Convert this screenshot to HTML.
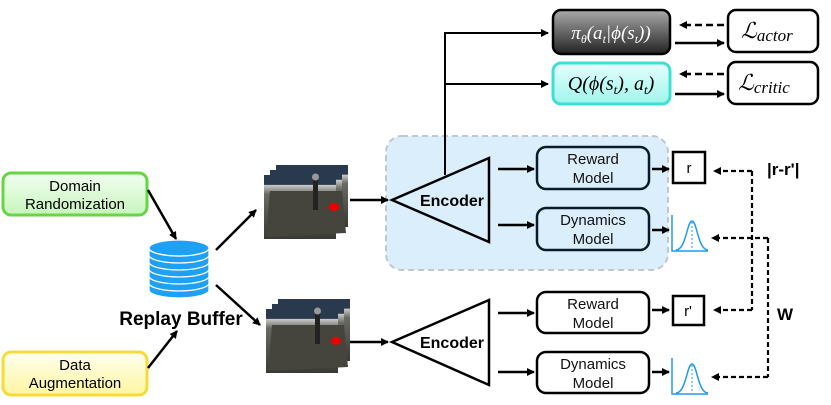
<!DOCTYPE html>
<html><head><meta charset="utf-8"><style>
html,body{margin:0;padding:0;background:#fff;}
svg{display:block;font-family:"Liberation Sans",Arial,sans-serif;}
</style></head><body>
<svg width="831" height="405" viewBox="0 0 831 405" xmlns="http://www.w3.org/2000/svg">
<defs>
<marker id="ah" markerWidth="8" markerHeight="8" refX="7" refY="4" orient="auto" markerUnits="userSpaceOnUse"><path d="M0,0 L8,4 L0,8 z" fill="#000"/></marker>
<linearGradient id="gpi" x1="0" y1="0" x2="0" y2="1"><stop offset="0" stop-color="#aaa"/><stop offset="1" stop-color="#222"/></linearGradient>
<linearGradient id="gq" x1="0" y1="0" x2="0" y2="1"><stop offset="0" stop-color="#e6fffd"/><stop offset="1" stop-color="#9ff5ec"/></linearGradient>
<linearGradient id="gg" x1="0" y1="0" x2="0" y2="1"><stop offset="0" stop-color="#f2fff0"/><stop offset="1" stop-color="#c8f5bd"/></linearGradient>
<linearGradient id="gy" x1="0" y1="0" x2="0" y2="1"><stop offset="0" stop-color="#fffff0"/><stop offset="1" stop-color="#fff5a0"/></linearGradient>
<linearGradient id="gimg" x1="0" y1="0" x2="0" y2="1"><stop offset="0" stop-color="#2a3a4e"/><stop offset="0.15" stop-color="#2a3a4e"/><stop offset="0.16" stop-color="#c8c8c8"/><stop offset="0.3" stop-color="#6a6a64"/><stop offset="1" stop-color="#3a3a34"/></linearGradient>
<g id="img">
<rect x="12" y="0" width="72" height="62" fill="url(#gimg)"/>
<rect x="6" y="5" width="72" height="63" fill="url(#gimg)"/>
<rect x="0" y="10" width="72" height="64" fill="url(#gimg)"/>
<polygon points="6,26 78,26 82,68 2,72" fill="#45453e"/>
<rect x="49" y="10" width="5" height="35" fill="#222"/>
<circle cx="51.5" cy="12" r="3.5" fill="#999"/>
<ellipse cx="70" cy="42" rx="5" ry="4" fill="#e00"/>
</g>
<g id="gauss" fill="none" stroke="#1e9bf0" stroke-width="1.5">
<path d="M0,0 V36 H36"/>
<path d="M4,35 C14,35 15,6 20,6 C25,6 26,35 36,35"/>
<path d="M20,7 V35" stroke-dasharray="2,2" stroke-width="1"/>
</g>
</defs>

<rect x="386" y="136" width="282" height="134" rx="16" fill="#dbeefb" stroke="#c0c8cf" stroke-width="2" stroke-dasharray="6,4"/>

<rect x="3" y="173" width="144" height="42" rx="8" fill="url(#gg)" stroke="#66d645" stroke-width="3"/>
<text x="75" y="191" font-size="15" text-anchor="middle">Domain</text>
<text x="75" y="209" font-size="15" text-anchor="middle">Randomization</text>
<rect x="3" y="352" width="144" height="43" rx="8" fill="url(#gy)" stroke="#f5dc3a" stroke-width="3"/>
<text x="75" y="370" font-size="15" text-anchor="middle">Data</text>
<text x="75" y="388" font-size="15" text-anchor="middle">Augmentation</text>

<g fill="#1ea0f5" stroke="#fff" stroke-width="1.3">
<path d="M149,290 v-8 a30,8 0 0 0 60,0 v8 a30,8 0 0 1 -60,0z"/>
<path d="M149,283 v-8 a30,8 0 0 0 60,0 v8 a30,8 0 0 1 -60,0z"/>
<path d="M149,276 v-8 a30,8 0 0 0 60,0 v8 a30,8 0 0 1 -60,0z"/>
<path d="M149,269 v-8 a30,8 0 0 0 60,0 v8 a30,8 0 0 1 -60,0z"/>
<path d="M149,262 v-8 a30,8 0 0 0 60,0 v8 a30,8 0 0 1 -60,0z"/>
<path d="M149,255 v-7 a30,8 0 0 0 60,0 v7 a30,8 0 0 1 -60,0z"/>
<ellipse cx="179" cy="248" rx="30" ry="8"/>
</g>
<text x="181" y="325" font-size="19" font-weight="bold" text-anchor="middle">Replay Buffer</text>

<g stroke="#000" stroke-width="2.5" marker-end="url(#ah)">
<line x1="148" y1="190" x2="176" y2="239"/>
<line x1="148" y1="368" x2="177" y2="331"/>
<line x1="216" y1="250" x2="256" y2="210"/>
<line x1="216" y1="285" x2="260" y2="325"/>
<line x1="350" y1="200" x2="388" y2="200"/>
<line x1="350" y1="342" x2="388" y2="342"/>
</g>

<use href="#img" x="264" y="165"/>
<use href="#img" x="266" y="299"/>

<polygon points="392,200 489,158 489,242" fill="none" stroke="#000" stroke-width="2.5"/>
<text x="452" y="206" font-size="16" font-weight="bold" text-anchor="middle">Encoder</text>
<polygon points="392,342 489,300 489,385" fill="none" stroke="#000" stroke-width="2.5"/>
<text x="452" y="348" font-size="16" font-weight="bold" text-anchor="middle">Encoder</text>

<g stroke="#000" stroke-width="2" fill="none">
<path d="M445,175 V33 H548" marker-end="url(#ah)"/>
<path d="M445,84 H548" marker-end="url(#ah)"/>
</g>

<g fill="none" stroke="#000" stroke-width="2.5">
<rect x="537" y="147" width="112" height="42" rx="9" stroke="#0a1a2a"/>
<rect x="537" y="208" width="112" height="42" rx="9" stroke="#0a1a2a"/>
<rect x="537" y="292" width="112" height="41" rx="9"/>
<rect x="537" y="352" width="112" height="41" rx="9"/>
</g>
<g font-size="15" text-anchor="middle" fill="#111">
<text x="593" y="164">Reward</text><text x="593" y="183">Model</text>
<text x="593" y="225">Dynamics</text><text x="593" y="244">Model</text>
<text x="593" y="309">Reward</text><text x="593" y="328">Model</text>
<text x="593" y="369">Dynamics</text><text x="593" y="388">Model</text>
</g>
<g stroke="#000" stroke-width="2.5" marker-end="url(#ah)">
<line x1="498" y1="169" x2="534" y2="169"/>
<line x1="498" y1="225" x2="534" y2="225"/>
<line x1="498" y1="313" x2="534" y2="313"/>
<line x1="498" y1="372" x2="534" y2="372"/>
<line x1="652" y1="169" x2="669" y2="169"/>
<line x1="652" y1="230" x2="669" y2="230"/>
<line x1="652" y1="310" x2="669" y2="310"/>
<line x1="652" y1="372" x2="669" y2="372"/>
</g>

<rect x="673" y="152" width="32" height="31" fill="#fff" stroke="#000" stroke-width="2.5"/>
<text x="689" y="173" font-size="15" text-anchor="middle">r</text>
<rect x="673" y="296" width="31" height="29" fill="#fff" stroke="#000" stroke-width="2.5"/>
<text x="688" y="316" font-size="15" text-anchor="middle">r'</text>
<use href="#gauss" x="672" y="215"/>
<use href="#gauss" x="672" y="358"/>

<g stroke="#000" stroke-width="2.2" fill="none" stroke-dasharray="5,3">
<path d="M752,171 V310" />
<path d="M752,171 H714" marker-end="url(#ah)"/>
<path d="M752,310 H714" marker-end="url(#ah)"/>
<path d="M768,238 V377"/>
<path d="M768,238 H712" marker-end="url(#ah)"/>
<path d="M768,377 H712" marker-end="url(#ah)"/>
</g>
<text x="767" y="175" font-size="17" font-weight="bold">|r-r'|</text>
<text x="777" y="320" font-size="17" font-weight="bold">W</text>

<rect x="553" y="10" width="117" height="44" rx="8" fill="url(#gpi)" stroke="#000" stroke-width="2.5"/>
<text x="611" y="39" font-size="19" font-family="Liberation Serif,serif" font-style="italic" fill="#fff" text-anchor="middle">π<tspan font-size="12" dy="4">θ</tspan><tspan dy="-4">(a</tspan><tspan font-size="12" dy="4">t</tspan><tspan dy="-4">|ϕ(s</tspan><tspan font-size="12" dy="4">t</tspan><tspan dy="-4">))</tspan></text>
<rect x="553" y="63" width="117" height="41" rx="8" fill="url(#gq)" stroke="#3ee0d4" stroke-width="3"/>
<text x="611" y="90" font-size="20" font-family="Liberation Serif,serif" font-style="italic" text-anchor="middle">Q(ϕ(s<tspan font-size="13" dy="4">t</tspan><tspan dy="-4">), a</tspan><tspan font-size="13" dy="4">t</tspan><tspan dy="-4">)</tspan></text>

<rect x="728" y="10" width="90" height="42" rx="8" fill="#fff" stroke="#000" stroke-width="2.5"/>
<text x="741" y="38" font-size="22" font-family="Liberation Serif,serif" font-style="italic">ℒ<tspan font-size="17" dy="3">actor</tspan></text>
<rect x="728" y="62" width="90" height="42" rx="8" fill="#fff" stroke="#000" stroke-width="2.5"/>
<text x="738" y="90" font-size="22" font-family="Liberation Serif,serif" font-style="italic">ℒ<tspan font-size="17" dy="3">critic</tspan></text>

<g stroke="#000" stroke-width="2.5">
<line x1="724" y1="25" x2="680" y2="25" stroke-dasharray="7,4" marker-end="url(#ah)"/>
<line x1="675" y1="43" x2="724" y2="43" marker-end="url(#ah)"/>
<line x1="724" y1="74" x2="680" y2="74" stroke-dasharray="7,4" marker-end="url(#ah)"/>
<line x1="675" y1="94" x2="724" y2="94" marker-end="url(#ah)"/>
</g>
</svg>
</body></html>
